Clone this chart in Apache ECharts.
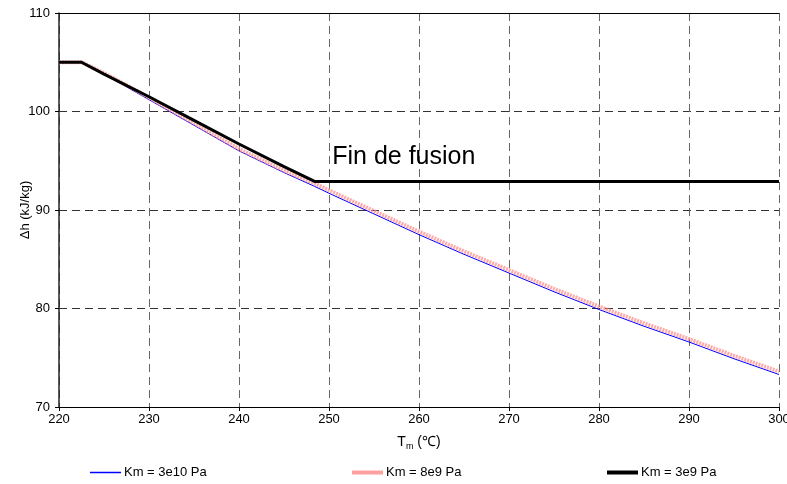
<!DOCTYPE html>
<html>
<head>
<meta charset="utf-8">
<script src="https://cdn.jsdelivr.net/npm/echarts@6/dist/echarts.min.js"></script>
<style>
html, body { margin: 0; padding: 0; background: #fff; }
#chart { width: 787px; height: 484px; }
</style>
</head>
<body>
<div id="chart"></div>
<script>
// temperatures (°C)
var temps = [220, 222.5, 225, 230, 235, 240, 245, 248.4, 250, 255, 260, 265, 270, 275, 280, 285, 290, 295, 300];
// Δh (kJ/kg) per Km
var km3e10 = [105, 105, 103.8, 101.2, 98.6, 96.0, 93.8, 92.4, 91.7, 89.6, 87.5, 85.5, 83.6, 81.7, 79.9, 78.2, 76.6, 74.9, 73.3];
var km8e9 = [105, 105, 103.9, 101.4, 98.8, 96.2, 94.0, 92.7, 92.0, 89.9, 87.8, 85.8, 83.9, 82.0, 80.2, 78.5, 76.9, 75.2, 73.6];
var km3e9 = [105, 105, 103.8, 101.5, 99.1, 96.7, 94.4, 92.9, 92.9, 92.9, 92.9, 92.9, 92.9, 92.9, 92.9, 92.9, 92.9, 92.9, 92.9];
var names = ['Km = 3e10 Pa', 'Km = 8e9 Pa', 'Km = 3e9 Pa'];

function pairs(ys) {
	return temps.map(function(t, i) { return [t, ys[i]]; });
}

var chart = echarts.init(document.getElementById('chart'));
var font = 'Liberation Sans, Arial, sans-serif';

function legendAt(name, left, h, color) {
	return {
		data: [{ name: name, icon: 'rect', itemStyle: { color: color } }],
		left: left,
		top: 466,
		padding: 0,
		itemWidth: 31,
		itemHeight: h,
		itemGap: 0,
		textStyle: { fontFamily: font, fontSize: 13, color: '#000', padding: [0, 0, 0, -2] }
	};
}

var option = {
	animation: false,
	backgroundColor: '#fff',
	grid: { left: 59, right: 8, top: 13, bottom: 77, outerBoundsMode: 'none' },
	legend: [
		legendAt(names[0], 90, 1.5, '#0000ff'),
		legendAt(names[1], 352, 4, '#ffa0a0'),
		legendAt(names[2], 607, 4, '#000')
	],
	xAxis: [{
		type: 'value',
		min: 220, max: 300, interval: 10,
		name: '{a|T}{b|m}{a| (℃)}',
		nameLocation: 'middle',
		nameGap: 27,
		nameMoveOverlap: false,
		nameTextStyle: {
			rich: {
				a: { fontFamily: font, fontSize: 14, color: '#000' },
				b: { fontFamily: font, fontSize: 9, color: '#000', padding: [8, 0, 0, 0] }
			}
		},
		axisLine: { lineStyle: { color: '#000', width: 1 } },
		axisTick: { show: true, length: 4, lineStyle: { color: '#000' } },
		axisLabel: { fontFamily: font, fontSize: 13, color: '#000', margin: 6 },
		splitLine: { show: true, lineStyle: { color: '#666', type: [8, 5], width: 1 } }
	}, {
		type: 'value', position: 'top',
		min: 220, max: 300,
		axisLine: { show: true, lineStyle: { color: '#000', width: 1 } },
		axisTick: { show: false }, axisLabel: { show: false }, splitLine: { show: false }
	}],
	yAxis: {
		type: 'value',
		min: 70, max: 110, interval: 10,
		name: 'Δh (kJ/kg)',
		nameLocation: 'middle',
		nameGap: 27,
		nameMoveOverlap: false,
		nameTextStyle: { fontFamily: font, fontSize: 13, color: '#000' },
		axisLine: { show: true, lineStyle: { color: '#222', width: 1.5 } },
		axisTick: { show: true, length: 4, lineStyle: { color: '#000' } },
		axisLabel: { fontFamily: font, fontSize: 13, color: '#000', margin: 9 },
		splitLine: { show: true, lineStyle: { color: '#333', type: [8, 5], width: 1 } }
	},
	series: [{
		name: names[0],
		type: 'line',
		data: pairs(km3e10),
		symbol: 'none',
		lineStyle: { color: '#0000ff', width: 1 },
		itemStyle: { color: '#0000ff' },
		z: 2
	}, {
		name: names[1],
		type: 'line',
		data: pairs(km8e9),
		symbol: 'none',
		lineStyle: { color: 'rgba(255,140,140,0.75)', width: 4, type: [2, 1] },
		itemStyle: { color: '#ff9999' },
		z: 3
	}, {
		name: names[2],
		type: 'line',
		data: pairs(km3e9),
		symbol: 'none',
		lineStyle: { color: '#000', width: 3 },
		itemStyle: { color: '#000' },
		z: 4,
		markPoint: {
			symbol: 'rect', symbolSize: 1,
			itemStyle: { color: 'transparent' },
			label: {
				show: true, formatter: 'Fin de fusion',
				fontFamily: font, fontSize: 25, color: '#000',
				position: 'right', offset: [0, 0]
			},
			data: [{ coord: [249.75, 95.4] }]
		}
	}]
};
chart.setOption(option);
</script>
</body>
</html>
